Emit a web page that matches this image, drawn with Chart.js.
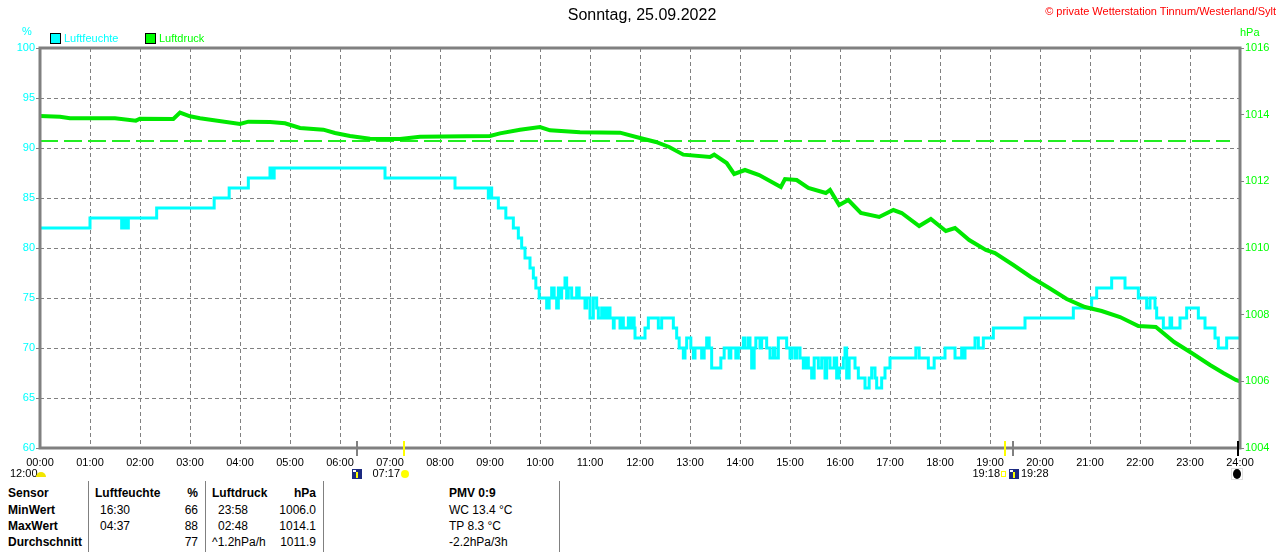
<!DOCTYPE html>
<html>
<head>
<meta charset="utf-8">
<script src="https://cdn.jsdelivr.net/npm/chart.js@4"></script>
<style>
  body { margin: 0; width: 1280px; height: 552px; background: #fff; overflow: hidden; position: relative;
         font-family: "Liberation Sans", Arial, sans-serif; }
  .t { position: absolute; white-space: nowrap; line-height: 1; }
  .b { font-weight: bold; }
  .sep { position: absolute; top: 481px; height: 71px; width: 1px; background: #808080; }
  .box { position: absolute; width: 9px; height: 9px; border: 1px solid #000; }
</style>
</head>
<body>
<canvas id="c" width="1280" height="480" style="position:absolute;left:0;top:0"></canvas>

<div class="t" style="left:0;width:1284px;text-align:center;top:7px;font-size:16px;color:#000">Sonntag, 25.09.2022</div>
<div class="t" style="right:4px;top:6px;font-size:11px;color:#ff0000">© private Wetterstation Tinnum/Westerland/Sylt</div>
<div class="t" style="left:22px;top:26px;font-size:11px;color:#00ffff">%</div>
<div class="t" style="left:1240px;top:27px;font-size:11px;color:#00ff00">hPa</div>
<div class="box" style="left:50px;top:33px;background:#00ffff"></div>
<div class="t" style="left:64px;top:33px;font-size:11px;color:#00ffff">Luftfeuchte</div>
<div class="box" style="left:145px;top:33px;background:#00ff00"></div>
<div class="t" style="left:159px;top:33px;font-size:11px;color:#00ff00">Luftdruck</div>

<div id="table"></div>

<script>
"use strict";
// Luftfeuchte (%), Zeitpunkte der Wertwechsel
var humTimes = ["00:00","01:00","01:38","01:41","01:43","01:46","02:20","03:29","03:47","04:10","04:36","04:38","04:41",
    "06:54","08:18","08:58","09:00","09:02","09:10","09:19","09:28","09:34","09:38","09:42","09:48","09:52","09:55","09:59",
    "10:08","10:11","10:14","10:17","10:20","10:22","10:24","10:26","10:30","10:32","10:34","10:38","10:44","10:47","10:54","10:56",
    "11:00","11:04","11:08","11:10","11:14","11:16","11:18","11:20","11:22","11:24","11:28","11:29","11:36","11:38","11:40","11:46",
    "11:48","11:50","11:53","11:54","12:06","12:10","12:22","12:26","12:40","12:44","12:47","12:52","12:54","12:56",
    "13:01","13:04","13:06","13:14","13:17","13:20","13:23","13:26","13:37","13:41","13:47","13:49","13:55","13:58",
    "14:04","14:06","14:10","14:12","14:14","14:17","14:19","14:24","14:26","14:32","14:36","14:40","14:42","14:46","14:56",
    "15:00","15:02","15:06","15:08","15:12","15:16","15:19","15:22","15:26","15:29","15:34","15:38","15:42","15:44","15:48","15:53","15:56","15:59",
    "16:04","16:06","16:08","16:11","16:18","16:22","16:30","16:35","16:38","16:42","16:44","16:50","16:54",
    "17:00","17:31","17:35","17:46","17:53","18:06","18:18","18:26","18:28","18:30","18:42","18:46","18:52",
    "19:04","19:42","20:40","21:02","21:08","21:26","21:42","21:58","22:08","22:12","22:18","22:20","22:28","22:36","22:38","22:48","22:56",
    "23:10","23:18","23:30","23:34","23:44","24:00"];
var humValues = [82,83,82,83,82,83,84,85,86,87,88,87,88,
    87,86,85,86,85,84,83,82,81,80,79,78,77,76,75,
    74,75,76,75,74,76,75,76,77,75,76,75,76,75,74,75,
    73,75,74,73,74,73,74,73,74,73,72,73,72,73,72,73,
    72,73,72,71,72,73,72,73,72,71,70,69,70,71,
    70,69,70,69,70,71,70,68,69,70,69,70,69,70,
    71,70,71,70,68,70,71,70,71,70,69,70,69,71,70,
    69,70,69,70,69,68,69,68,67,69,68,69,67,69,68,69,67,68,
    69,70,67,69,68,67,66,67,68,67,66,67,68,
    69,70,69,68,69,70,69,70,69,70,71,70,71,
    72,73,74,75,76,77,76,75,74,75,74,73,72,73,72,73,74,
    73,72,71,70,71,71];

// Luftdruck (hPa)
var presTimes = ["00:00","00:24","00:36","01:30","01:55","02:00","02:40","02:48","03:00","03:12","04:00","04:10","04:36","04:54",
    "05:12","05:40","05:54","06:12","06:36","07:12","07:36","09:00","09:12","09:36","10:00","10:12","10:48","11:36","12:00",
    "12:19","12:35","12:52","13:24","13:29","13:44","13:53","14:06","14:23","14:49","14:54","15:08","15:22","15:43","15:48",
    "15:59","16:10","16:25","16:47","17:04","17:14","17:35","17:49","18:07","18:18","18:35","18:55","19:06","19:28","19:49",
    "20:11","20:32","20:54","21:14","21:36","21:58","22:19","22:41","23:02","23:24","23:40","23:55","24:00"];
var presValues = [1013.96,1013.94,1013.89,1013.89,1013.82,1013.88,1013.87,1014.06,1013.95,1013.89,1013.72,1013.79,1013.78,1013.74,
    1013.60,1013.55,1013.45,1013.36,1013.28,1013.27,1013.34,1013.36,1013.44,1013.55,1013.63,1013.53,1013.47,1013.46,1013.30,
    1013.18,1013.03,1012.80,1012.73,1012.80,1012.55,1012.22,1012.34,1012.19,1011.83,1012.07,1012.04,1011.80,1011.65,1011.74,
    1011.29,1011.44,1011.05,1010.93,1011.14,1011.05,1010.66,1010.87,1010.51,1010.60,1010.24,1009.94,1009.85,1009.49,1009.13,
    1008.80,1008.47,1008.23,1008.11,1007.93,1007.66,1007.63,1007.18,1006.85,1006.49,1006.25,1006.04,1006.00];

var refPressure = 1013.21;
var refTimes = ["00:00", "23:48"];

// Sonnen-/Mondmarken an der Zeitachse
var markerTimes = ["06:20", "07:17", "19:18", "19:28", "24:00"];
var markerColors = ["#808080", "#ffff00", "#ffff00", "#808080", "#000000"];

var tableRows = [
    ["Sensor", "Luftfeuchte", "%", "Luftdruck", "hPa", "PMV 0:9"],
    ["MinWert", "16:30", "66", "23:58", "1006.0", "WC 13.4 °C"],
    ["MaxWert", "04:37", "88", "02:48", "1014.1", "TP 8.3 °C"],
    ["Durchschnitt", "", "77", "^1.2hPa/h", "1011.9", "-2.2hPa/3h"]
];

function toHours(t) {
    var p = t.split(":");
    return parseInt(p[0]) + parseInt(p[1]) / 60;
}
function pad(n) { return (n < 10 ? "0" : "") + n; }

var humData = humTimes.map(function (t, i) { return { x: toHours(t), y: humValues[i] }; });
var presData = presTimes.map(function (t, i) { return { x: toHours(t), y: presValues[i] }; });
var refData = refTimes.map(function (t) { return { x: toHours(t), y: refPressure }; });

var FONT = '"Liberation Sans", Arial, sans-serif';

var frame = {
    id: 'frame',
    afterDraw: function (chart) {
        var ctx = chart.ctx, a = chart.chartArea, x = chart.scales.x;
        ctx.save();
        ctx.strokeStyle = "#808080";
        ctx.lineWidth = 3;
        ctx.strokeRect(a.left, a.top, a.right - a.left, a.bottom - a.top);

        var px = [];
        for (var i = 0; i < markerTimes.length; i++) {
            px[i] = Math.round(x.getPixelForValue(toHours(markerTimes[i])));
            ctx.strokeStyle = markerColors[i];
            ctx.lineWidth = 2;
            ctx.beginPath();
            ctx.moveTo(px[i] - (i === 4 ? 2 : 0), a.bottom - 7);
            ctx.lineTo(px[i] - (i === 4 ? 2 : 0), a.bottom + 8);
            ctx.stroke();
        }

        ctx.font = "11px " + FONT;
        ctx.fillStyle = "#000";
        ctx.textBaseline = "middle";
        ctx.textAlign = "left";
        ctx.fillText("12:00", 10, 474);
        ctx.fillStyle = "#f2e600";
        ctx.beginPath();
        ctx.arc(41, 477, 5, Math.PI, 0);
        ctx.fill();

        // Dämmerungssymbole
        [px[0], px[3] + 1].forEach(function (cx) {
            ctx.fillStyle = "#1c2a80";
            ctx.fillRect(cx - 5, 469, 10, 10);
            ctx.fillStyle = "#ffff00";
            ctx.fillRect(cx - 1, 472, 2, 6);
            ctx.fillStyle = "#ffffff";
            ctx.fillRect(cx - 4, 470, 3, 2);
        });
        ctx.fillStyle = "#000";
        ctx.textAlign = "right";
        ctx.fillText(markerTimes[1], px[1] - 4, 474);
        ctx.fillText(markerTimes[2], px[2] - 5, 474);
        ctx.textAlign = "left";
        ctx.fillText(markerTimes[3], px[3] + 8, 474);

        ctx.fillStyle = "#ffff00";
        ctx.beginPath();
        ctx.arc(px[1] + 1, 474, 4, 0, 2 * Math.PI);
        ctx.fill();
        ctx.strokeStyle = "#ffff00";
        ctx.lineWidth = 1;
        ctx.strokeRect(px[2] - 3.5, 471.5, 4, 5);

        ctx.fillStyle = "#000";
        ctx.beginPath();
        ctx.ellipse(px[4] - 3, 474, 4, 5, 0, 0, 2 * Math.PI);
        ctx.fill();
        ctx.strokeStyle = "#c0c0c0";
        ctx.setLineDash([1, 1]);
        ctx.strokeRect(px[4] - 8.5, 468.5, 11, 11);
        ctx.restore();
    }
};

var chart = new Chart(document.getElementById("c").getContext("2d"), {
    type: "line",
    data: {
        datasets: [
            { label: "Luftdruck", data: presData, yAxisID: "y1", borderColor: "#00e800", borderWidth: 4,
              pointRadius: 0, tension: 0 },
            { label: "Luftfeuchte", data: humData, yAxisID: "y", borderColor: "#00ffff", borderWidth: 3,
              pointRadius: 0, stepped: "before" },
            { label: "Referenz", data: refData, yAxisID: "y1", borderColor: "#22ee22", borderWidth: 2,
              borderDash: [18, 6], pointRadius: 0 }
        ]
    },
    options: {
        responsive: false,
        animation: false,
        devicePixelRatio: 1,
        layout: { padding: { top: 48, left: 0, right: 0, bottom: 0 } },
        plugins: { legend: { display: false }, tooltip: { enabled: false } },
        scales: {
            x: {
                type: "linear", min: 0, max: 24,
                afterFit: function (s) { s.height = 32; },
                grid: { color: "#808080", lineWidth: 1, drawTicks: false },
                border: { display: false, dash: [4, 3] },
                ticks: {
                    stepSize: 1, autoSkip: false, maxRotation: 0, padding: 8,
                    color: "#000", font: { family: FONT, size: 11 },
                    callback: function (v) { return pad(v) + ":00"; }
                }
            },
            y: {
                position: "left", min: 60, max: 100,
                afterFit: function (s) { s.width = 40; },
                grid: { color: "#808080", lineWidth: 1, tickLength: 4, tickColor: "#808080", tickBorderDash: [] },
                border: { display: false, dash: [4, 3] },
                ticks: { stepSize: 5, padding: 1, color: "#00ffff", font: { family: FONT, size: 11 } }
            },
            y1: {
                position: "right", min: 1004, max: 1016,
                afterFit: function (s) { s.width = 40; },
                grid: { drawOnChartArea: false, tickLength: 4, tickColor: "#808080" },
                border: { display: false },
                ticks: { stepSize: 2, padding: 1, color: "#00ff00", font: { family: FONT, size: 11 },
                         callback: function (v) { return String(v); } }
            }
        }
    },
    plugins: [frame]
});

// Tabelle unter dem Diagramm
var colX = [8, 100, 198, 218, 316, 449];
var colAlign = ["l", "l", "r", "l", "r", "l"];
var rowY = [487, 504, 520, 536];
var html = "";
[88, 205, 323, 559].forEach(function (sx) {
    html += '<div class="sep" style="left:' + sx + 'px"></div>';
});
tableRows.forEach(function (row, r) {
    row.forEach(function (txt, c) {
        var x = colX[c];
        if (r === 0 && c === 1) x = 95;
        if (r === 0 && c === 3) x = 212;
        if (r === 3 && c === 3) x = 212;
        var bold = (r === 0 || c === 0) ? " b" : "";
        var style = "top:" + rowY[r] + "px;font-size:12px;color:#000;";
        if (colAlign[c] === "r") {
            style += "right:" + (1280 - x) + "px;";
        } else {
            style += "left:" + x + "px;";
        }
        html += '<div class="t' + bold + '" style="' + style + '">' + txt + '</div>';
    });
});
document.getElementById("table").innerHTML = html;
</script>
</body>
</html>
